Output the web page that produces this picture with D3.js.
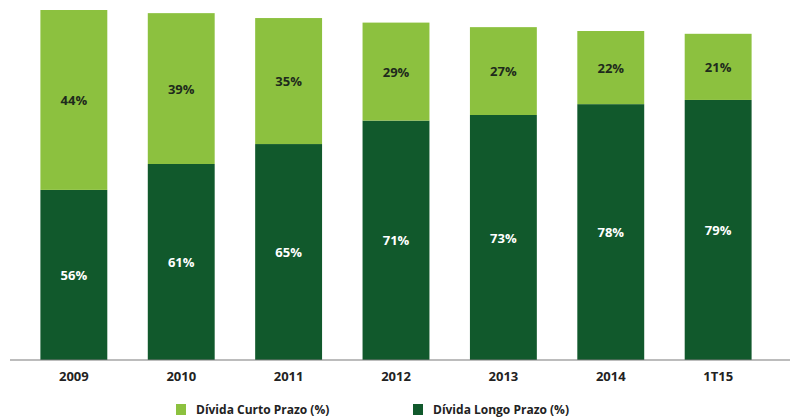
<!DOCTYPE html>
<html>
<head>
<meta charset="utf-8">
<script src="https://cdn.jsdelivr.net/npm/d3@7"></script>
<style>
    body { margin: 0; background: #fff; }
    svg { display: block; font-family: "Open Sans", "DejaVu Sans", sans-serif; }
</style>
</head>
<body>
<div id="chart"></div>
<script>
// categories and values
const periods = ["2009", "2010", "2011", "2012", "2013", "2014", "1T15"];
// segment heights as drawn (2009 total = 100)
const longTerm = [48.6, 56.0, 61.7, 68.4, 70.0, 73.1, 74.3];
const shortTerm = [51.4, 43.1, 36.0, 28.0, 25.1, 20.9, 18.9];
// printed labels
const longLabels = [56, 61, 65, 71, 73, 78, 79];
const shortLabels = [44, 39, 35, 29, 27, 22, 21];
const seriesNames = ["Dívida Curto Prazo (%)", "Dívida Longo Prazo (%)"];

const lightGreen = "#8cc13f";
const darkGreen = "#11592c";

let width = 794, height = 419;

let svg = d3.select("#chart").append("svg")
    .attr("width", width)
    .attr("height", height);

let x = d3.scaleBand()
    .domain(periods)
    .range([20, 772])
    .paddingInner(0.377)
    .paddingOuter(0.19);

let y = d3.scaleLinear()
    .domain([0, 100])
    .range([360, 10]);

let rows = periods.map((p, i) => ({
    period: p,
    long: longTerm[i],
    short: shortTerm[i],
    longLabel: longLabels[i],
    shortLabel: shortLabels[i]
}));

let stack = d3.stack().keys(["long", "short"]);
let layers = stack(rows);
let fills = {long: darkGreen, short: lightGreen};
let textFill = {long: "#ffffff", short: "#1e2a1c"};

let g = svg.selectAll(".layer")
    .data(layers)
    .enter().append("g")
    .attr("class", "layer")
    .attr("fill", d => fills[d.key]);

g.selectAll("rect")
    .data(d => d)
    .enter().append("rect")
    .attr("x", d => x(d.data.period))
    .attr("width", x.bandwidth())
    .attr("y", d => y(d[1]))
    .attr("height", d => y(d[0]) - y(d[1]));

svg.selectAll(".layer").each(function (layer) {
    d3.select(this).selectAll("text")
        .data(layer)
        .enter().append("text")
        .attr("x", d => x(d.data.period) + x.bandwidth() / 2)
        .attr("y", d => (y(d[0]) + y(d[1])) / 2 + 5)
        .attr("text-anchor", "middle")
        .attr("font-size", 13)
        .attr("font-weight", 700)
        .attr("fill", textFill[layer.key])
        .text(d => (layer.key === "long" ? d.data.longLabel : d.data.shortLabel) + "%");
});

// x axis
let xAxis = d3.axisBottom(x).tickSize(0).tickPadding(12);
let axisG = svg.append("g")
    .attr("class", "x-axis axis")
    .attr("transform", "translate(0,360)")
    .call(xAxis);
axisG.select(".domain").remove();
axisG.append("line")
    .attr("x1", 10).attr("x2", 790)
    .attr("stroke", "#7a7a7a")
    .attr("stroke-width", 1.2);
axisG.selectAll(".tick text")
    .attr("font-family", "'Open Sans', sans-serif")
    .attr("font-size", 13)
    .attr("font-weight", 700)
    .attr("fill", "#222");

// legend
let legendPos = [176, 413];
let legend = svg.selectAll(".legend")
    .data(seriesNames)
    .enter().append("g")
    .attr("class", "legend")
    .attr("transform", (d, i) => "translate(" + legendPos[i] + ",404)");

legend.append("rect")
    .attr("width", 10)
    .attr("height", 11)
    .attr("fill", (d, i) => i === 0 ? lightGreen : darkGreen);

legend.append("text")
    .attr("x", 20)
    .attr("y", 10)
    .attr("font-size", 12)
    .attr("font-weight", 700)
    .attr("fill", "#222")
    .text(d => d);
</script>
</body>
</html>
